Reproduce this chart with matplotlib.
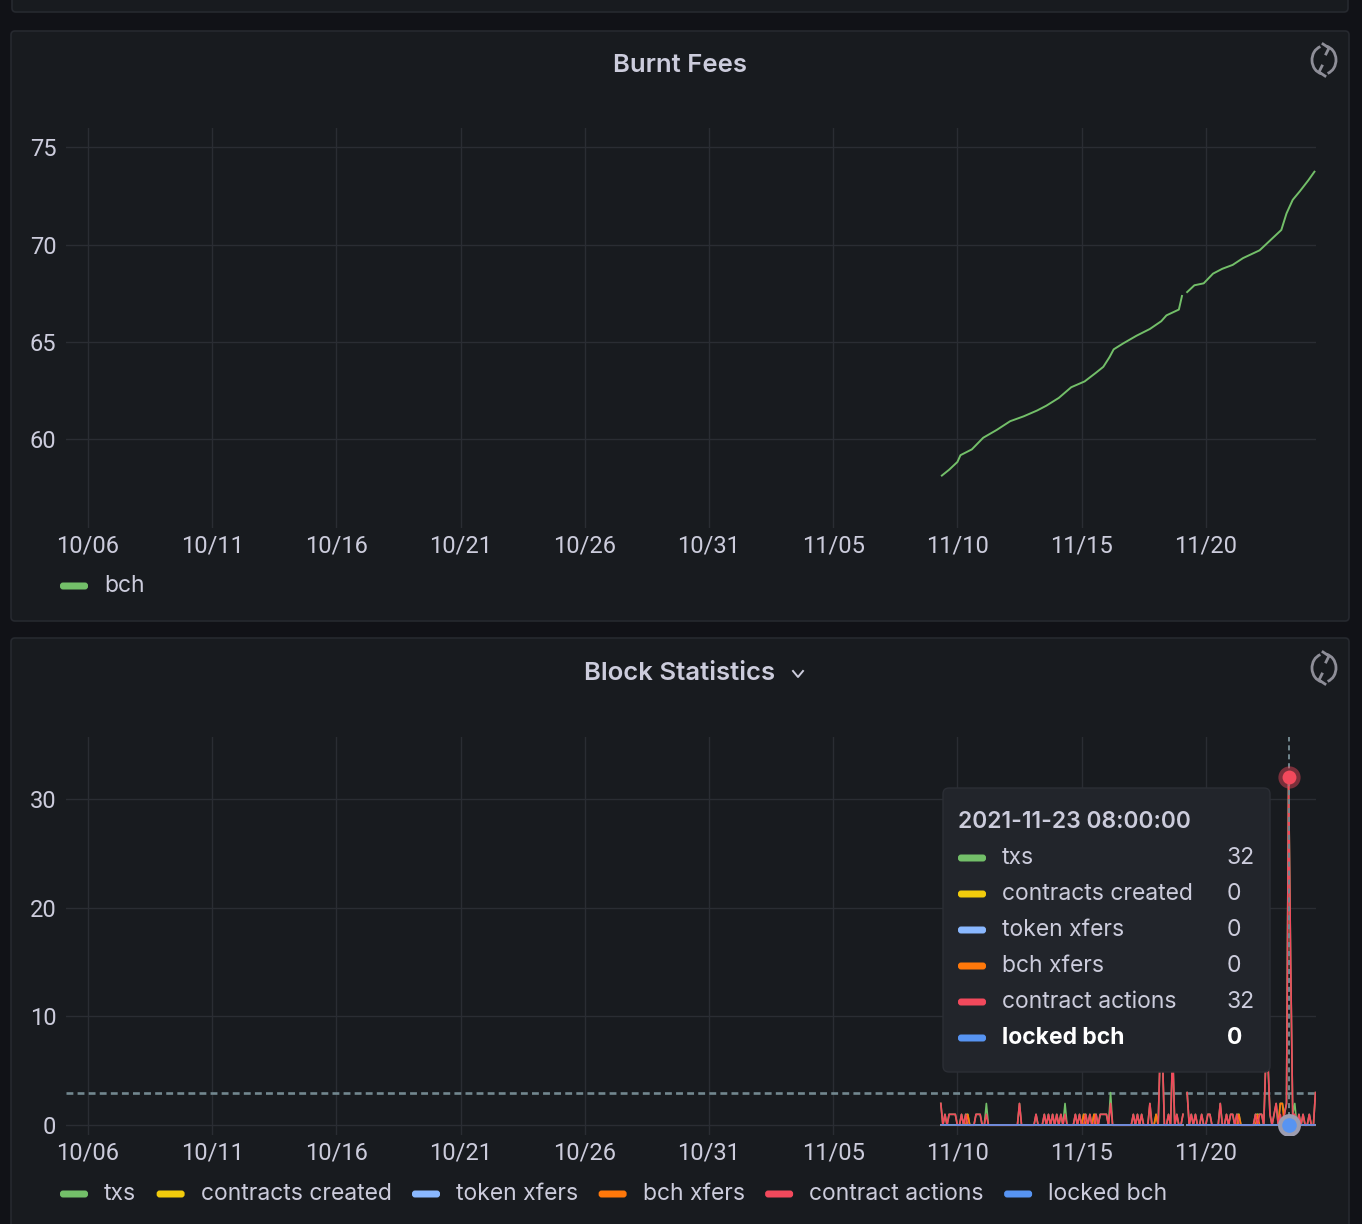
import numpy as np
import pandas as pd
import matplotlib
matplotlib.use("Agg")
import matplotlib.pyplot as plt
import matplotlib.dates as mdates
from matplotlib.patches import FancyBboxPatch, Arc
from matplotlib.lines import Line2D

plt.rcParams['font.family'] = ['Inter', 'DejaVu Sans']

W, H = 1362, 1224
BG = '#111217'
PANEL = '#181b1f'
BORDER = '#26292f'
TEXT = '#ccccdc'
GRID = '#2a2d33'
DASH = '#72878f'
nan = np.nan

# ---- Burnt Fees (bch) ----
fee_times = ["2021-11-09 09:00", "2021-11-09 16:00", "2021-11-10 00:00", "2021-11-10 03:00",
             "2021-11-10 14:00", "2021-11-11 01:00", "2021-11-11 14:00", "2021-11-12 03:00",
             "2021-11-12 16:00", "2021-11-13 05:00", "2021-11-13 14:00", "2021-11-14 02:00",
             "2021-11-14 14:00", "2021-11-15 03:00", "2021-11-15 14:00", "2021-11-15 21:00",
             "2021-11-16 03:00", "2021-11-16 07:00", "2021-11-16 16:00", "2021-11-17 05:00",
             "2021-11-17 18:00", "2021-11-18 05:00", "2021-11-18 10:00", "2021-11-18 22:00",
             "2021-11-19 01:00", "2021-11-19 04:00", "2021-11-19 06:00", "2021-11-19 13:00",
             "2021-11-19 22:00", "2021-11-20 07:00", "2021-11-20 16:00", "2021-11-21 02:00",
             "2021-11-21 12:00", "2021-11-22 04:00", "2021-11-22 14:00", "2021-11-23 01:00",
             "2021-11-23 06:00", "2021-11-23 12:00", "2021-11-23 19:00", "2021-11-24 03:00",
             "2021-11-24 09:00"]
fee_bch = [58.1, 58.4, 58.8, 59.15, 59.45, 60.05, 60.45, 60.9, 61.15, 61.45, 61.7, 62.1,
           62.65, 62.95, 63.4, 63.7, 64.2, 64.6, 64.9, 65.3, 65.65, 66.05, 66.35, 66.65,
           67.35, nan, 67.55, 67.9, 68.0, 68.5, 68.75, 68.95, 69.3, 69.7, 70.2, 70.75,
           71.6, 72.3, 72.75, 73.3, 73.75]

# ---- Block Statistics: 2-hour buckets from 2021-11-09 08:00, one row per day ----
block_start = "2021-11-09 08:00"
block_step = "2h"
txs = [2, 0, 1, 0, 1, 1, 1, 1, 0, 0, 1, 0,
       1, 1, 0, 0, 0, 1, 1, 1, 0, 0, 2, 0,
       0, 0, 0, 0, 0, 0, 0, 0, 0, 0, 0, 0,
       0, 0, 2, 0, 0, 0, 0, 0, 0, 0, 1, 0,
       0, 0, 1, 0, 1, 0, 1, 0, 1, 0, 1, 0,
       2, 0, 0, 0, 0, 1, 0, 1, 0, 1, 1, 0,
       1, 0, 1, 1, 0, 1, 1, 1, 1, 0, 3, 0,
       0, 0, 0, 0, 0, 0, 0, 0, 0, 1, 0, 1,
       0, 1, 0, 0, 0, 2, 0, 0, 1, 0, 7, 7,
       0, 0, 1, 0, 7, 0, 1, 0, 0, 1, nan, 3,
       0, 1, 0, 1, 0, 0, 1, 0, 0, 1, 1, 0,
       0, 0, 0, 2, 0, 0, 1, 0, 1, 1, 0, 1,
       1, 0, 0, 0, 0, 0, 0, 0, 1, 1, 1, 1,
       0, 6, 6, 1, 0, 1, 2, 0, 2, 2, 1, 2,
       32, 15, 1, 2, 0, 1, 0, 1, 0, 0, 1, 0,
       0, 3]
contracts_created = [0, 0, 0, 0, 0, 0, 0, 0, 0, 0, 0, 0,
                     0, 0, 0, 0, 0, 0, 0, 0, 0, 0, 0, 0,
                     0, 0, 0, 0, 0, 0, 0, 0, 0, 0, 0, 0,
                     0, 0, 0, 0, 0, 0, 0, 0, 0, 0, 0, 0,
                     0, 0, 0, 0, 0, 0, 0, 0, 0, 0, 0, 0,
                     0, 0, 0, 0, 0, 0, 0, 0, 0, 0, 0, 0,
                     0, 0, 0, 0, 0, 0, 0, 0, 0, 0, 0, 0,
                     0, 0, 0, 0, 0, 0, 0, 0, 0, 0, 0, 0,
                     0, 0, 0, 0, 0, 0, 0, 0, 0, 0, 0, 0,
                     0, 0, 0, 0, 0, 0, 0, 0, 0, 0, nan, 0,
                     0, 0, 0, 0, 0, 0, 0, 0, 0, 0, 0, 0,
                     0, 0, 0, 0, 0, 0, 0, 0, 0, 0, 0, 0,
                     0, 0, 0, 0, 0, 0, 0, 0, 0, 0, 0, 0,
                     0, 0, 0, 0, 0, 0, 0, 0, 0, 0, 0, 0,
                     0, 0, 0, 0, 0, 0, 0, 0, 0, 0, 0, 0,
                     0, 0]
token_xfers = list(contracts_created)
bch_xfers = [0, 0, 0, 0, 0, 0, 0, 0, 0, 0, 0, 0,
             0, 1, 0, 0, 0, 0, 0, 0, 0, 0, 0, 0,
             0, 0, 0, 0, 0, 0, 0, 0, 0, 0, 0, 0,
             0, 0, 0, 0, 0, 0, 0, 0, 0, 0, 0, 0,
             0, 0, 0, 0, 0, 0, 0, 0, 0, 0, 0, 0,
             0, 0, 0, 0, 0, 0, 0, 0, 0, 1, 0, 0,
             0, 0, 1, 0, 0, 0, 0, 0, 0, 0, 0, 0,
             0, 0, 0, 0, 0, 0, 0, 0, 0, 0, 0, 0,
             0, 0, 0, 0, 0, 0, 0, 0, 1, 0, 0, 0,
             0, 0, 0, 0, 0, 0, 0, 0, 0, 0, nan, 0,
             0, 0, 0, 0, 0, 0, 0, 0, 0, 0, 0, 0,
             0, 0, 0, 0, 0, 0, 0, 0, 0, 0, 0, 0,
             1, 0, 0, 0, 0, 0, 0, 0, 0, 1, 0, 0,
             0, 0, 0, 0, 0, 0, 0, 0, 2, 2, 0, 0,
             0, 0, 0, 0, 0, 0, 0, 0, 0, 0, 0, 0,
             0, 0]
contract_actions = [2, 0, 1, 0, 1, 1, 1, 1, 0, 0, 1, 0,
                    1, 0, 0, 0, 0, 1, 1, 1, 0, 0, 1, 0,
                    0, 0, 0, 0, 0, 0, 0, 0, 0, 0, 0, 0,
                    0, 0, 2, 0, 0, 0, 0, 0, 0, 0, 1, 0,
                    0, 0, 1, 0, 1, 0, 1, 0, 1, 0, 1, 0,
                    1, 0, 0, 0, 0, 1, 0, 1, 0, 0, 1, 0,
                    1, 0, 0, 1, 0, 1, 1, 1, 1, 0, 2, 0,
                    0, 0, 0, 0, 0, 0, 0, 0, 0, 1, 0, 1,
                    0, 1, 0, 0, 0, 2, 0, 0, 0, 0, 7, 7,
                    0, 0, 1, 0, 7, 0, 1, 0, 0, 1, nan, 3,
                    0, 1, 0, 1, 0, 0, 1, 0, 0, 1, 1, 0,
                    0, 0, 0, 2, 0, 0, 1, 0, 1, 1, 0, 1,
                    0, 0, 0, 0, 0, 0, 0, 0, 1, 0, 1, 1,
                    0, 6, 6, 1, 0, 1, 2, 0, 1, 0, 1, 2,
                    32, 15, 1, 1, 0, 1, 0, 1, 0, 0, 1, 0,
                    0, 3]
locked_bch = list(contracts_created)

series_names = ["txs", "contracts created", "token xfers", "bch xfers", "contract actions", "locked bch"]
series_colors = ["#73bf69", "#f2cc0c", "#8ab8ff", "#ff780a", "#f2495c", "#5794f2"]
series_values = [txs, contracts_created, token_xfers, bch_xfers, contract_actions, locked_bch]

hover_time = "2021-11-23 08:00"
hover_values = ["32", "0", "0", "0", "32", "0"]
threshold = 3

tick_dates = pd.date_range("2021-10-06", "2021-11-20", freq="5D")
x_range = (pd.Timestamp("2021-10-05 02:45"), pd.Timestamp("2021-11-24 10:30"))

fig = plt.figure(figsize=(W / 100, H / 100), dpi=100)
fig.patch.set_facecolor(BG)


def px_axes(x0, y0, x1, y1, z):
    ax = fig.add_axes([x0 / W, 1 - y1 / H, (x1 - x0) / W, (y1 - y0) / H])
    ax.set_zorder(z)
    return ax


def overlay(z):
    ax = px_axes(0, 0, W, H, z)
    ax.set_xlim(0, W)
    ax.set_ylim(H, 0)
    ax.axis('off')
    ax.patch.set_alpha(0)
    return ax


# panels
bg = overlay(0)
for (x0, y0, x1, y1) in [(12, -20, 1348, 12), (11, 31, 1349, 621), (11, 638, 1349, 1250)]:
    bg.add_patch(FancyBboxPatch((x0, y0), x1 - x0, y1 - y0,
                                boxstyle="round,pad=0,rounding_size=4",
                                fc=PANEL, ec=BORDER, lw=1.2))
bg.text(680, 66, "Burnt Fees", ha='center', va='center', color=TEXT,
        fontsize=18.5, fontweight='semibold')
bg.text(680, 674, "Block Statistics", ha='center', va='center', color=TEXT,
        fontsize=18.5, fontweight='semibold')
bg.add_line(Line2D([793, 798, 803], [671, 677, 671], color=TEXT, lw=1.4))


def refresh_icon(ax, cx, cy):
    c = '#8e8e98'
    ax.add_patch(Arc((cx, cy), 24, 28, theta1=100, theta2=255, color=c, lw=2.0))
    ax.add_patch(Arc((cx, cy), 24, 28, theta1=280, theta2=75, color=c, lw=2.0))
    ax.add_line(Line2D([cx - 1, cx + 5, cx + 2], [cy - 16, cy - 12, cy - 6], color=c, lw=2.0))
    ax.add_line(Line2D([cx + 1, cx - 5, cx - 2], [cy + 16, cy + 12, cy + 6], color=c, lw=2.0))


refresh_icon(bg, 1324, 60)
refresh_icon(bg, 1324, 668)


def style_axes(ax, ylim, yticks):
    ax.set_facecolor('none')
    for s in ax.spines.values():
        s.set_visible(False)
    ax.set_xlim(*x_range)
    ax.set_ylim(*ylim)
    ax.set_xticks(tick_dates)
    ax.xaxis.set_major_formatter(mdates.DateFormatter('%m/%d'))
    ax.set_yticks(yticks)
    ax.tick_params(length=0, colors=TEXT, labelsize=17)
    ax.tick_params(axis='y', pad=7)
    ax.tick_params(axis='x', pad=5)
    for lab in ax.get_xticklabels() + ax.get_yticklabels():
        lab.set_fontfamily(['Roboto', 'DejaVu Sans'])
    ax.grid(True, color=GRID, lw=1)
    ax.set_axisbelow(True)


# chart 1
ax1 = px_axes(66, 128, 1316, 528, 1)
style_axes(ax1, (55.4, 76.0), [60, 65, 70, 75])
ax1.plot(pd.to_datetime(fee_times), fee_bch, color="#73bf69", lw=1.4)

# chart 2
ax2 = px_axes(66, 737, 1316, 1135, 1)
style_axes(ax2, (-0.9, 35.7), [0, 10, 20, 30])
t = pd.date_range(block_start, periods=len(txs), freq=block_step)
for vals, col in zip(series_values, series_colors):
    ax2.plot(t, vals, color=col, lw=1.2)
ax2.axhline(threshold, color=DASH, lw=1.9, dashes=(2.6, 1.6), zorder=1.5)
ht = pd.Timestamp(hover_time)
ax2.axvline(ht, color=DASH, lw=1.4, dashes=(2.6, 2.0), zorder=3)
ax2.plot([ht], [32], 'o', ms=16, color='#f2495c', alpha=0.45, mec='none', zorder=4)
ax2.plot([ht], [32], 'o', ms=10, color='#f2495c', mec='none', zorder=5)
ax2.plot([ht], [0], 'o', ms=16.5, color='#9d9db0', mec='none', zorder=4)
ax2.plot([ht], [0], 'o', ms=10.5, color='#5794f2', mec='none', zorder=5)

# foreground: legends + tooltip
fg = overlay(2)
renderer = fig.canvas.get_renderer()


def legend_bar(ax, x, y, color):
    ax.add_patch(FancyBboxPatch((x, y - 3.5), 28, 7, boxstyle="round,pad=0,rounding_size=3",
                                fc=color, ec='none'))


def legend_row(ax, y, names, colors):
    x = 60
    for name, col in zip(names, colors):
        legend_bar(ax, x, y, col)
        txt = ax.text(x + 44, y, name, ha='left', va='center', color=TEXT, fontsize=16.5)
        wpx = txt.get_window_extent(renderer).width
        x = x + 44 + wpx + 20.5


legend_row(fg, 586, ["bch"], ["#73bf69"])
legend_row(fg, 1194, series_names, series_colors)

fg.add_patch(FancyBboxPatch((943, 788), 327, 284, boxstyle="round,pad=0,rounding_size=6",
                            fc='#22252b', ec='#2b2e35', lw=1))
fg.text(958, 822, ht.strftime("%Y-%m-%d %H:%M:%S"), ha='left', va='center', color=TEXT,
        fontsize=16.5, fontweight='semibold')
for k, (name, col, val) in enumerate(zip(series_names, series_colors, hover_values)):
    y = 858 + 36 * k
    last = k == len(series_names) - 1
    c = 'white' if last else TEXT
    w = 'bold' if last else 'normal'
    legend_bar(fg, 958, y, col)
    fg.text(1002, y, name, ha='left', va='center', color=c, fontsize=16.5, fontweight=w)
    fg.text(1227, y, val, ha='left', va='center', color=c, fontsize=16.5, fontweight=w)

fig.savefig("out.png", dpi=100, facecolor=BG)
